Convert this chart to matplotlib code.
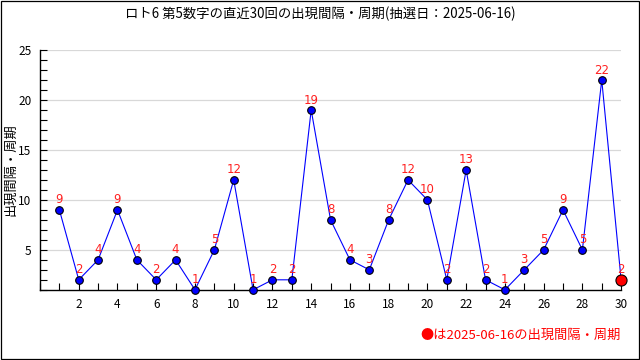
import matplotlib.pyplot as plt
from matplotlib.ticker import MultipleLocator

plt.rcParams['font.family'] = ['Noto Sans CJK JP', 'DejaVu Sans']

# data
draws = list(range(1, 31))
intervals = [9, 2, 4, 9, 4, 2, 4, 1, 5, 12, 1, 2, 2, 19, 8, 4, 3, 8, 12, 10,
             2, 13, 2, 1, 3, 5, 9, 5, 22, 2]
title = 'ロト6 第5数字の直近30回の出現間隔・周期(抽選日：2025-06-16)'
ylabel = '出現間隔・周期'
note = '●は2025-06-16の出現間隔・周期'

fig = plt.figure(figsize=(6.4, 3.6), dpi=100)
ax = fig.add_axes([0.0625, 0.195, 0.908, 0.666])

# border around the whole image
fig.patches.append(plt.Rectangle((0.0008, 0.0014), 0.9984, 0.997, transform=fig.transFigure,
                                 fill=False, edgecolor='black', linewidth=0.9))

ax.plot(draws, intervals, color='blue', linewidth=0.8, zorder=2)
ax.plot(draws[:-1], intervals[:-1], 'o', color='blue', markeredgecolor='black',
        markeredgewidth=0.8, markersize=5.5, zorder=3, clip_on=False)
ax.plot(draws[-1], intervals[-1], 'o', color='red', markeredgecolor='black',
        markeredgewidth=0.8, markersize=8, zorder=4, clip_on=False)

for x, y in zip(draws, intervals):
    ax.annotate(str(y), (x, y), xytext=(0, 2.5), textcoords='offset points',
                ha='center', va='bottom', color='#ff2020', fontsize=8.5,
                family=['DejaVu Sans'])

ax.set_xlim(0, 30)
ax.set_ylim(1, 25)
ax.xaxis.set_major_locator(MultipleLocator(2))
ax.xaxis.set_minor_locator(MultipleLocator(1))
ax.yaxis.set_major_locator(MultipleLocator(5))
ax.yaxis.set_minor_locator(MultipleLocator(1))
ax.tick_params(which='both', direction='in', labelsize=8.5, width=0.8)
ax.tick_params(which='major', length=5, pad=6)
ax.tick_params(which='minor', length=5)
ax.set_xticks([x for x in range(2, 31, 2)])
ax.set_yticks([5, 10, 15, 20, 25])
ax.grid(axis='y', which='major', color='#d8d8d8', linewidth=0.9)
ax.set_axisbelow(True)
for side in ['top', 'right']:
    ax.spines[side].set_visible(False)
for side in ['left', 'bottom']:
    ax.spines[side].set_linewidth(1.0)

fig.text(0.017, 0.53, ylabel, rotation=90, ha='center', va='center', fontsize=9.5)
fig.text(0.5, 0.962, title, ha='center', va='center', fontsize=9.6)
fig.text(0.97, 0.068, note, ha='right', va='center', color='red', fontsize=9.5)

fig.savefig('out.png', dpi=100)
